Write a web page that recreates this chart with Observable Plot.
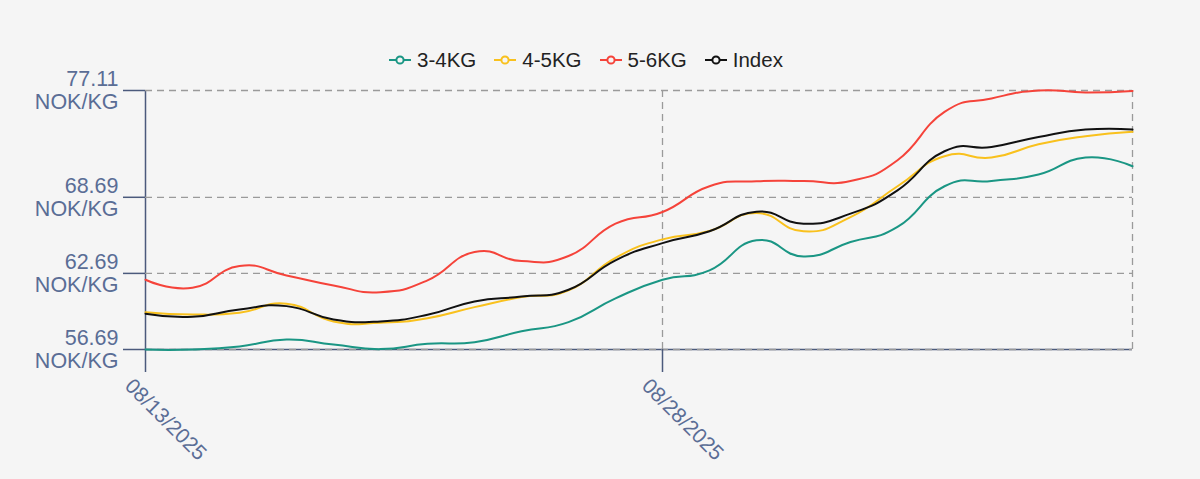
<!DOCTYPE html>
<html>
<head>
<meta charset="utf-8">
<script src="https://cdn.jsdelivr.net/npm/d3@7"></script>
<script src="https://cdn.jsdelivr.net/npm/@observablehq/plot@0.6"></script>
<style>
  html, body { margin: 0; padding: 0; background: #f5f5f5; }
  #wrap { position: relative; width: 1200px; height: 479px; font-family: "Liberation Sans", Arial, sans-serif; }
  #legend { position: absolute; top: 48px; left: 389px; display: flex; align-items: center; font-size: 20.5px; color: #222; }
  .item { display: flex; align-items: center; margin-right: 18px; }
  .item svg { margin-right: 6px; }
  #chart { position: absolute; top: 0; left: 0; }
</style>
</head>
<body>
<div id="wrap">
  <div id="legend"></div>
  <div id="chart"></div>
</div>
<script>
// Category axis: trading days
const dates = ["08/13/2025","08/14/2025","08/15/2025","08/18/2025","08/19/2025","08/20/2025","08/21/2025","08/22/2025",
  "08/25/2025","08/26/2025","08/27/2025","08/28/2025","08/29/2025","09/01/2025","09/02/2025","09/03/2025","09/04/2025",
  "09/05/2025","09/08/2025","09/09/2025","09/10/2025","09/11/2025"];

const seriesNames = ["3-4KG", "4-5KG", "5-6KG", "Index"];
const seriesColors = ["#1a9684", "#f9c11d", "#f5433a", "#111111"];

const kg34 = [56.69,56.69,56.93,57.48,57.08,56.72,57.14,57.27,58.13,58.85,60.72,62.19,62.93,65.30,64.03,65.16,66.35,69.56,69.98,70.48,71.82,71.14];
const kg45 = [59.63,59.45,59.59,60.30,58.90,58.80,59.16,60.03,60.82,61.35,63.92,65.37,66.03,67.45,66.01,67.13,69.56,71.93,71.82,72.87,73.51,73.85];
const kg56 = [62.19,61.56,63.27,62.53,61.74,61.21,62.14,64.37,63.66,64.06,66.61,67.53,69.56,69.95,69.98,69.98,71.61,75.42,76.48,77.11,76.96,77.08];
const index = [59.51,59.27,59.85,60.11,59.06,58.90,59.43,60.48,60.87,61.40,63.72,65.08,66.01,67.56,66.61,67.40,69.24,72.32,72.66,73.45,74.03,74.03];

const yTicks = [56.69, 62.69, 68.69, 77.11];
const xTicks = ["08/13/2025", "08/28/2025"];

const allSeries = [kg34, kg45, kg56, index];
const rows = [];
allSeries.forEach((arr, k) => arr.forEach((v, i) => rows.push({date: dates[i], value: v, series: seriesNames[k]})));

// Legend
const legend = document.getElementById("legend");
seriesNames.forEach((name, k) => {
  const it = document.createElement("div");
  it.className = "item";
  it.innerHTML = `<svg width="22" height="12"><line x1="0" x2="22" y1="6" y2="6" stroke="${seriesColors[k]}" stroke-width="2"/><circle cx="11" cy="6" r="3.6" fill="#f5f5f5" stroke="${seriesColors[k]}" stroke-width="2"/></svg><span>${name}</span>`;
  legend.appendChild(it);
});

const axisColor = "#4b5a7c";
const labelColor = "#5a6d95";
const gridStyle = {stroke: "#9a9a9a", strokeDasharray: "7,5", strokeWidth: 1.3};

const chart = Plot.plot({
  width: 1200,
  height: 479,
  marginLeft: 145,
  marginRight: 68,
  marginTop: 90,
  marginBottom: 130,
  style: {background: "transparent", fontFamily: "Liberation Sans, Arial, sans-serif"},
  x: {type: "point", domain: dates, padding: 0},
  y: {domain: [56.69, 77.11]},
  color: {domain: seriesNames, range: seriesColors},
  marks: [
    Plot.ruleX([dates[0]], {stroke: axisColor, strokeWidth: 1.5}),
    Plot.ruleY([56.69], {stroke: axisColor, strokeWidth: 1.5}),
    Plot.ruleY(yTicks, gridStyle),
    Plot.ruleX([xTicks[1], dates[dates.length - 1]], gridStyle),
    Plot.axisY({ticks: yTicks, tickFormat: d => d.toFixed(2) + "\nNOK/KG", tickSize: 22, tickPadding: 5,
      fontSize: 21.5, lineHeight: 1.06, stroke: axisColor, fill: labelColor, strokeWidth: 1.5, label: null}),
    Plot.axisX({ticks: xTicks, tickSize: 23, tickFormat: () => "", stroke: axisColor, strokeWidth: 1.5, label: null}),
    Plot.axisX({ticks: xTicks, tickSize: 0, tickRotate: 45, tickPadding: 29, fontSize: 21, dx: -17, dy: 4,
      fill: labelColor, label: null}),
    Plot.line(rows, {x: "date", y: "value", stroke: "series", strokeWidth: 2, curve: "cardinal", tension: -0.5})
  ]
});
document.getElementById("chart").appendChild(chart);
</script>
</body>
</html>
